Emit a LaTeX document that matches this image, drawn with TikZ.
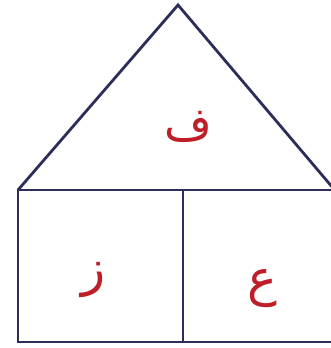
\documentclass[tikz,border=0pt]{standalone}
\usepackage{fontspec}
\newfontfamily\arabicfont[Script=Arabic]{DejaVu Sans}
\TeXXeTstate=1
\definecolor{houseline}{RGB}{45,45,90}
\definecolor{letterred}{RGB}{190,30,40}
\tikzset{
    wall/.style={draw=houseline, line width=2.8pt},
    letter/.style={text=letterred, font=\arabicfont\fontsize{50}{56}\selectfont, inner sep=0pt}
}
\begin{document}
\begin{tikzpicture}[x=1pt, y=-1pt]
    \useasboundingbox (0,0) rectangle (331,348);

    % roof
    \coordinate (apex) at (178,5);
    \coordinate (roofL) at (18,190);
    \coordinate (roofR) at (333,188);
    \draw[wall] (roofL) -- (apex) -- (roofR);

    % walls
    \draw[wall] (18,190) rectangle (335,342);
    \draw[wall] (183,190) -- (183,342);

    \node[letter, font=\arabicfont\fontsize{46}{52}\selectfont] (fa) at (188,127) {\beginR ف\endR};
    \node[letter] (zay) at (94,280) {\beginR ز\endR};
    \node[letter] (ayn) at (262,289) {\beginR ع\endR};
\end{tikzpicture}
\end{document}
